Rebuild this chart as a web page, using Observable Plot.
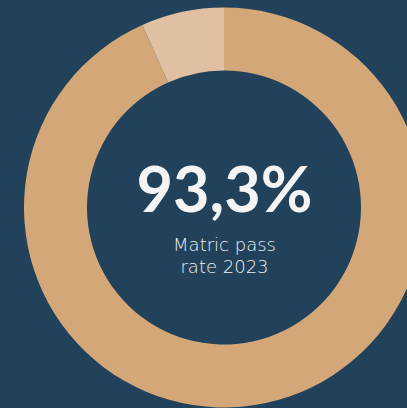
<!DOCTYPE html>
<html>
<head>
<meta charset="utf-8">
<script src="https://cdn.jsdelivr.net/npm/d3@7"></script>
<script src="https://cdn.jsdelivr.net/npm/@observablehq/plot@0.6"></script>
<style>
  html, body { margin: 0; padding: 0; background: #21425a; overflow: hidden; }
</style>
</head>
<body>
<div id="chart"></div>
<script>
// Data
const categories = ["Passed", "Not passed"];
const values = [93.3, 6.7];
const colors = ["#d4a778", "#dfc0a2"];
const headline = "93,3%";
const subtitleLines = ["Matric pass", "rate 2023"];

const data = categories.map((c, i) => ({category: c, value: values[i], color: colors[i]}));

const W = 407, H = 408;
const outerR = 200, innerR = 137;

function arcRender(index, scales, vals, dims) {
  const cx = dims.marginLeft + (dims.width - dims.marginLeft - dims.marginRight) / 2;
  const cy = dims.marginTop + (dims.height - dims.marginTop - dims.marginBottom) / 2;
  const g = d3.create("svg:g").attr("transform", `translate(${cx},${cy})`);
  const arc = d3.arc().innerRadius(innerR).outerRadius(outerR);
  for (const i of index) {
    g.append("path")
      .attr("d", arc({startAngle: vals.x1[i], endAngle: vals.x2[i]}))
      .attr("fill", vals.fill[i]);
  }
  return g.node();
}

const chart = Plot.plot({
  width: W,
  height: H,
  marginLeft: 41,
  marginRight: 0,
  marginTop: 7,
  marginBottom: 0,
  style: {background: "#21425a", overflow: "visible"},
  x: {domain: [0, d3.sum(values)], range: [0, 2 * Math.PI], axis: null},
  y: {axis: null},
  color: {type: "identity"},
  marks: [
    Plot.barX(data, Plot.stackX({x: "value", fill: "color", render: arcRender})),
    Plot.text([headline], {
      frameAnchor: "middle", dy: -16, fill: "#f4f4f4",
      fontSize: 63, fontWeight: "bold", fontFamily: "Lato, 'Open Sans', sans-serif"
    }),
    Plot.text([subtitleLines[0]], {
      frameAnchor: "middle", dy: 37, fill: "#eef0f2",
      fontSize: 18, fontWeight: 200, fontFamily: "'DejaVu Sans', sans-serif"
    }),
    Plot.text([subtitleLines[1]], {
      frameAnchor: "middle", dy: 59, fill: "#eef0f2",
      fontSize: 18, fontWeight: 200, fontFamily: "'DejaVu Sans', sans-serif"
    })
  ]
});
document.getElementById("chart").appendChild(chart);
</script>
</body>
</html>
